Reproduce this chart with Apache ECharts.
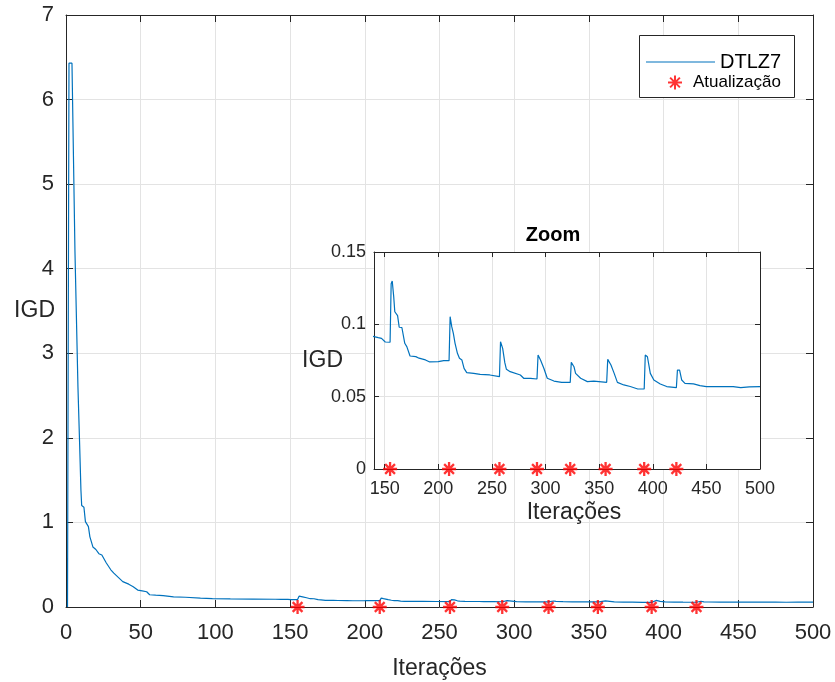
<!DOCTYPE html>
<html>
<head>
<meta charset="utf-8">
<script src="https://cdn.jsdelivr.net/npm/echarts@6/dist/echarts.min.js"></script>
<style>
html,body{margin:0;padding:0;background:#fff;}
#chart{width:835px;height:682px;}
</style>
</head>
<body>
<div id="chart"></div>
<script>
// ---- data ----
const iters = [1, 2, 4, 6, 8, 9, 10, 10.5, 12, 13, 15, 16, 18, 20, 22, 24, 27, 30, 32, 35, 38, 42, 45, 48, 51, 54, 56, 60, 65, 72, 80, 90, 98, 110, 125,
  140, 144, 147, 148.5, 150.5, 155, 156, 157, 158.4, 159.4, 161, 162, 163.5, 166, 168.7, 170.6, 171.7, 173.6, 179, 182, 188, 192, 200, 205, 210,
  211, 212.5, 214, 215.6, 217.8, 219.7, 222, 224, 226.5, 233, 239, 248, 257,
  258, 260, 262, 263.5, 267, 276.5, 279.6, 286, 292,
  293, 295.3, 298.4, 301.6, 307.8, 315, 323,
  324, 326.5, 328, 332.7, 339, 345, 357,
  358, 361, 364, 367, 373, 379, 386, 392,
  393, 395, 397.7, 401, 407, 413, 422,
  423, 425, 427, 430, 438, 444, 450, 463, 475, 482, 490, 500];
const igd = [0, 6.43, 6.43, 4.2, 2.6, 2.0, 1.38, 1.2, 1.18, 1.01, 0.95, 0.83, 0.71, 0.68, 0.63, 0.615, 0.52, 0.44, 0.40, 0.35, 0.30, 0.27, 0.24, 0.20, 0.19, 0.18, 0.145, 0.14, 0.135, 0.12, 0.115, 0.105, 0.10, 0.097, 0.094,
  0.0915, 0.0908, 0.0903, 0.091, 0.0878, 0.0876, 0.128, 0.130, 0.119, 0.1087, 0.109, 0.106, 0.098, 0.0978, 0.0869, 0.0846, 0.0834, 0.0781, 0.0777, 0.0766, 0.0754, 0.074, 0.0742, 0.0749, 0.0749,
  0.1053, 0.0984, 0.0938, 0.0869, 0.080, 0.0765, 0.0753, 0.0696, 0.0666, 0.0661, 0.0654, 0.065, 0.0638,
  0.088, 0.0834, 0.0735, 0.0689, 0.0673, 0.065, 0.0627, 0.0627, 0.0622,
  0.0788, 0.0753, 0.0696, 0.0627, 0.0608, 0.0599, 0.0599,
  0.0737, 0.0707, 0.0661, 0.0627, 0.0604, 0.0608, 0.0599,
  0.0758, 0.0719, 0.0661, 0.0599, 0.0581, 0.057, 0.0553, 0.0553,
  0.0788, 0.0776, 0.0661, 0.0615, 0.0588, 0.057, 0.0562,
  0.0684, 0.0684, 0.0615, 0.0592, 0.0588, 0.0576, 0.057, 0.057, 0.057, 0.0562, 0.0568, 0.057];
const updates = [155, 210, 257, 292, 323, 356, 392, 422];
const updateValue = 0;
const insetXTicks = [150, 200, 250, 300, 350, 400, 450, 500];
const seriesName = 'DTLZ7';
const markerName = 'Atualização';
const xName = 'Iterações';
const yName = 'IGD';
const insetTitle = 'Zoom';

// ---- build ----
const lineData = iters.map((x, i) => [x, igd[i]]);
const starData = updates.map(u => [u, updateValue]);
const FONT = '"Liberation Sans", Arial, Helvetica, sans-serif';
const AX = '#262626';
const GRIDC = '#e3e3e3';
const BLUE = '#0072BD';
const STAR = 'path://M10 0 L10 20 M0 10 L20 10 M3 3 L17 17 M17 3 L3 17';

function axLine() { return {show: true, onZero: false, lineStyle: {color: AX, width: 1}}; }

const option = {
  animation: false,
  backgroundColor: '#fff',
  textStyle: {fontFamily: FONT},
  title: {
    text: insetTitle, left: 553, top: 225, textAlign: 'center', padding: 0,
    textStyle: {fontFamily: FONT, fontSize: 20, fontWeight: 'bold', color: '#000'}
  },
  grid: [
    {left: 66, top: 15, right: 22, bottom: 75, show: false, containLabel: false, outerBoundsMode: 'none'},
    {left: 374, top: 252, right: 75, bottom: 213, show: true, backgroundColor: '#fff', borderWidth: 0, z: 5,
     containLabel: false, outerBoundsMode: 'none'}
  ],
  legend: [
    {data: [{name: seriesName, icon: 'rect'}], left: 646, top: 52, itemWidth: 69, itemHeight: 1.2, padding: 0, z: 10,
     itemStyle: {color: BLUE, borderWidth: 0},
     textStyle: {fontFamily: FONT, fontSize: 20, color: '#000'}},
    {data: [markerName], left: 667, top: 74, itemWidth: 26, itemHeight: 14, padding: 0, z: 10,
     textStyle: {fontFamily: FONT, fontSize: 17, color: '#000'}}
  ],
  graphic: [
    {type: 'rect', left: 639, top: 35, z: 9, shape: {width: 155, height: 62},
     style: {fill: '#fff', stroke: AX, lineWidth: 1}}
  ],
  xAxis: [
    {gridIndex: 0, type: 'value', min: 0, max: 500, interval: 50, position: 'bottom',
     axisLine: axLine(),
     axisTick: {show: true, inside: true, length: 7, lineStyle: {color: AX}},
     axisLabel: {color: AX, fontSize: 22, margin: 15, fontFamily: FONT},
     splitLine: {show: true, lineStyle: {color: GRIDC, width: 1}},
     name: xName, nameLocation: 'middle', nameGap: 50, nameMoveOverlap: false,
     nameTextStyle: {color: AX, fontSize: 23, fontFamily: FONT}},
    {gridIndex: 0, type: 'value', min: 0, max: 500, interval: 50, position: 'top',
     axisLine: axLine(),
     axisTick: {show: true, inside: true, length: 7, lineStyle: {color: AX}},
     axisLabel: {show: false}, splitLine: {show: false}},
    {gridIndex: 1, type: 'value', min: 140, max: 500, position: 'bottom', z: 6,
     axisLine: axLine(),
     axisTick: {show: true, inside: true, length: 5, lineStyle: {color: AX}, customValues: insetXTicks},
     axisLabel: {color: AX, fontSize: 18, margin: 11, fontFamily: FONT, customValues: insetXTicks},
     splitLine: {show: true, lineStyle: {color: GRIDC, width: 1}},
     name: xName, nameLocation: 'middle', nameGap: 32, nameMoveOverlap: false,
     nameTextStyle: {color: AX, fontSize: 23, fontFamily: FONT, padding: [0, 0, 0, 14]}},
    {gridIndex: 1, type: 'value', min: 140, max: 500, position: 'top', z: 6,
     axisLine: axLine(),
     axisTick: {show: true, inside: true, length: 5, lineStyle: {color: AX}, customValues: insetXTicks},
     axisLabel: {show: false}, splitLine: {show: false}}
  ],
  yAxis: [
    {gridIndex: 0, type: 'value', min: 0, max: 7, interval: 1, position: 'left',
     axisLine: axLine(),
     axisTick: {show: true, inside: true, length: 7, lineStyle: {color: AX}},
     axisLabel: {color: AX, fontSize: 22, margin: 12, fontFamily: FONT},
     splitLine: {show: true, lineStyle: {color: GRIDC, width: 1}},
     name: yName, nameLocation: 'middle', nameRotate: 0, nameGap: 11, nameMoveOverlap: false,
     nameTextStyle: {color: AX, fontSize: 23, fontFamily: FONT}},
    {gridIndex: 0, type: 'value', min: 0, max: 7, interval: 1, position: 'right',
     axisLine: axLine(),
     axisTick: {show: true, inside: true, length: 7, lineStyle: {color: AX}},
     axisLabel: {show: false}, splitLine: {show: false}},
    {gridIndex: 1, type: 'value', min: 0, max: 0.15, interval: 0.05, position: 'left', z: 6,
     axisLine: axLine(),
     axisTick: {show: true, inside: true, length: 5, lineStyle: {color: AX}},
     axisLabel: {color: AX, fontSize: 18, margin: 8, fontFamily: FONT},
     splitLine: {show: true, lineStyle: {color: GRIDC, width: 1}},
     name: yName, nameLocation: 'middle', nameRotate: 0, nameGap: 31, nameMoveOverlap: false,
     nameTextStyle: {color: AX, fontSize: 23, fontFamily: FONT}},
    {gridIndex: 1, type: 'value', min: 0, max: 0.15, interval: 0.05, position: 'right', z: 6,
     axisLine: axLine(),
     axisTick: {show: true, inside: true, length: 5, lineStyle: {color: AX}},
     axisLabel: {show: false}, splitLine: {show: false}}
  ],
  series: [
    {name: seriesName, type: 'line', xAxisIndex: 0, yAxisIndex: 0, data: lineData,
     symbol: 'none', showSymbol: false, lineStyle: {color: BLUE, width: 1.2}, itemStyle: {color: BLUE}, z: 2},
    {name: markerName, type: 'scatter', xAxisIndex: 0, yAxisIndex: 0, data: starData,
     symbol: STAR, symbolSize: 14, symbolKeepAspect: true,
     itemStyle: {color: 'rgba(0,0,0,0)', borderColor: '#ff0000', borderWidth: 2.3}, z: 3},
    {name: seriesName, type: 'line', xAxisIndex: 2, yAxisIndex: 2, data: lineData, clip: true,
     symbol: 'none', showSymbol: false, lineStyle: {color: BLUE, width: 1.2}, itemStyle: {color: BLUE}, z: 7},
    {name: markerName, type: 'scatter', xAxisIndex: 2, yAxisIndex: 2, data: starData,
     symbol: STAR, symbolSize: 14, symbolKeepAspect: true,
     itemStyle: {color: 'rgba(0,0,0,0)', borderColor: '#ff0000', borderWidth: 2.3}, z: 8}
  ]
};
const chart = echarts.init(document.getElementById('chart'), null, {renderer: 'canvas'});
chart.setOption(option);
</script>
</body>
</html>
